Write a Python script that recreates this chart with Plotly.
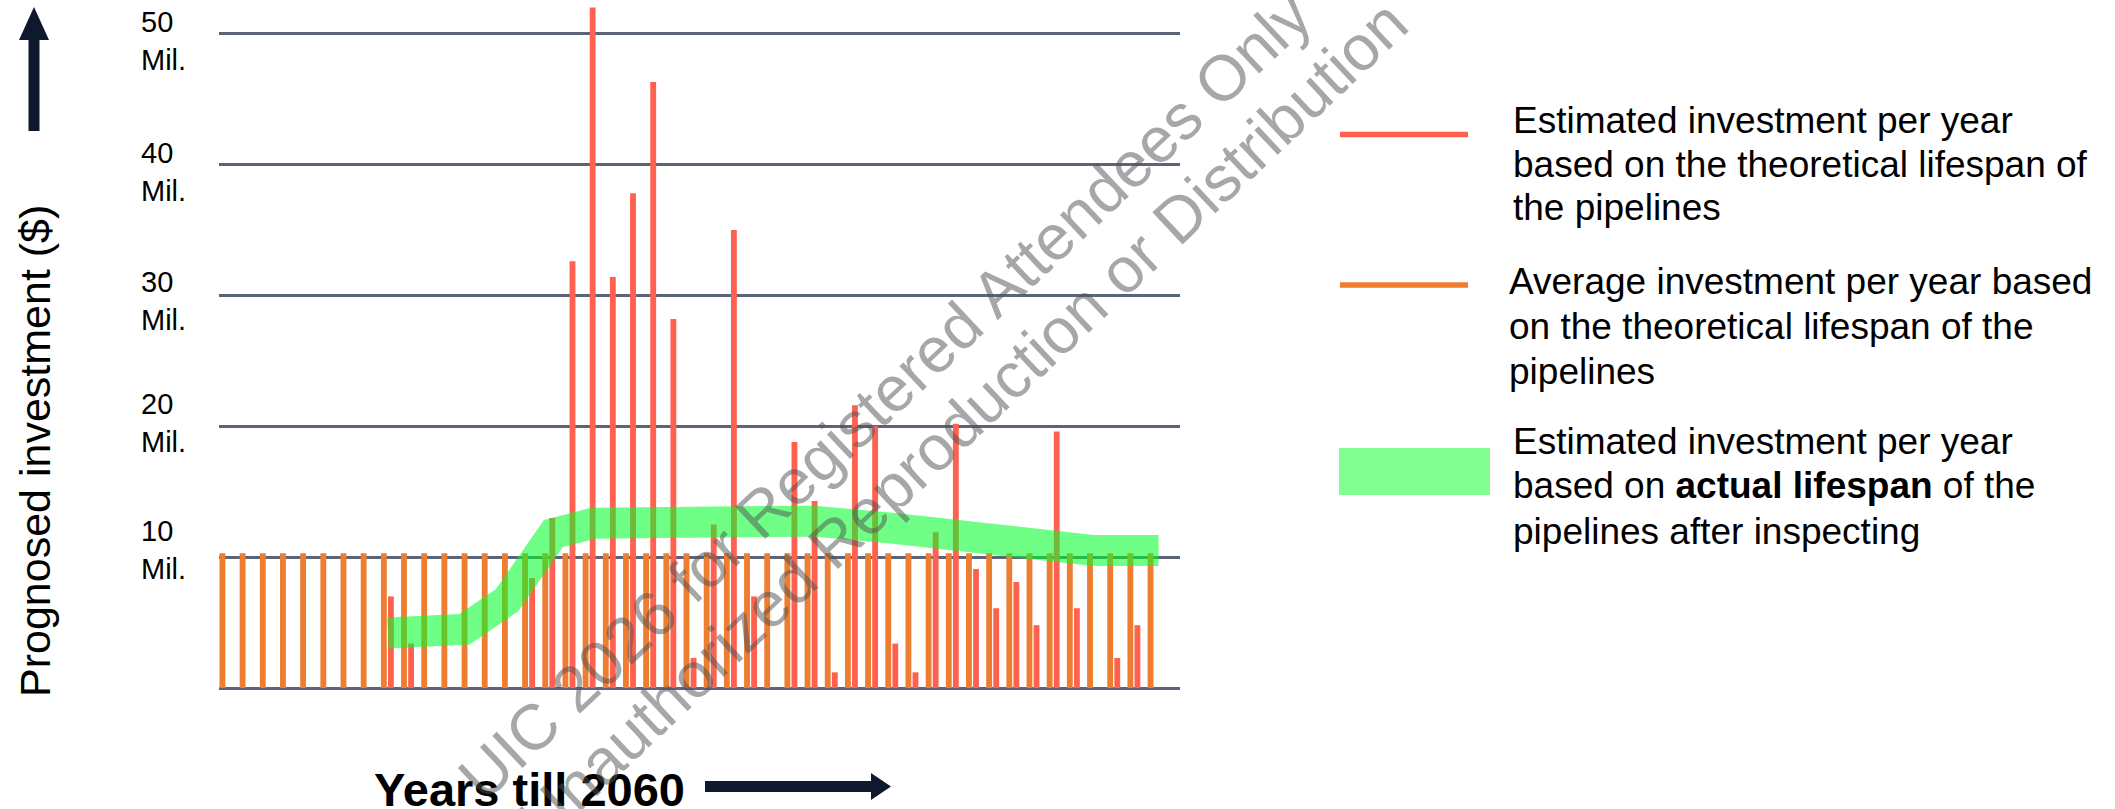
import plotly.graph_objects as go

# ---------------- data ----------------
years = list(range(2014, 2061))  # 47 yearly slots till 2060

# Average investment per year (theoretical lifespan), Mil. $
avg_investment = [10.3, 10.3, 10.3, 10.3, 10.3, 10.3, 10.3, 10.3, 10.3, 10.3,
                  10.3, 10.3, 10.3, 10.3, 10.3, 10.3, 10.3, 10.3, 10.3, 10.3,
                  10.3, 10.3, 10.3, 10.3, 10.3, 10.3, 10.3, 10.3, 10.3, 10.3,
                  10.3, 10.3, 10.3, 10.3, 10.3, 10.3, 10.3, 10.3, 10.3, 10.3,
                  10.3, 10.3, 10.3, 10.3, 10.3, 10.3, 10.3]

# Estimated investment per year (theoretical lifespan), Mil. $
est_investment = [None, None, None, None, None, None, None, None, 7.0, 3.4,
                  None, None, None, None, None, 8.4, 13.0, 32.6, 52.0, 31.4,
                  37.8, 46.3, 28.2, 2.3, 12.5, 35.0, 7.0, None, 18.8, 14.3,
                  1.2, 21.6, 20.0, 3.4, 1.2, 11.9, 20.2, 9.1, 6.1, 8.1,
                  4.8, 19.6, 6.1, None, 2.3, 4.8, None]

# Estimated investment based on actual lifespan (band)
band_years = [2022.2, 2024.9, 2026.0, 2028.1, 2030.4, 2032.4, 2037.2,
              2039.3, 2043.3, 2047.3, 2050.5, 2055.4, 2057.2, 2060.4]
band_values = [4.2, 4.2, 4.5, 6.7, 11.8, 12.6, 12.7,
               13.0, 12.75, 12.2, 11.6, 10.8, 10.5, 10.5]

tick_values = [10, 20, 30, 40, 50]
tick_labels = ["10<br>Mil.", "20<br>Mil.", "30<br>Mil.", "40<br>Mil.", "50<br>Mil."]
grid_values = [0, 10, 20, 30, 40, 50]

legend_entries = [
    ["Estimated investment per year",
     "based on the theoretical lifespan of",
     "the pipelines"],
    ["Average investment per year based",
     "on the theoretical lifespan of the",
     "pipelines"],
    ["Estimated investment per year",
     "based on <b>actual lifespan</b> of the",
     "pipelines after inspecting"],
]

watermark_lines = ["UIC 2026 for Registered Attendees Only",
                   "Unauthorized Reproduction or Distribution"]

# ---------------- style ----------------
FONT = "Liberation Sans, Arial, sans-serif"
ORANGE = "#ED7D31"
RED = "#FF6150"
GREEN_BAND = "rgba(0,255,40,0.56)"
GREEN_SWATCH = "#80FF90"
GRID = "#5B6478"
NAVY = "#0F192D"

FIG_W, FIG_H = 2115, 809
L, T, W, H = 219, 0, 961, 690


def pxp(X):
    return (X - L) / W


def pyp(Y):
    return (T + H - Y) / H


fig = go.Figure()

fig.add_trace(go.Bar(
    x=years, y=avg_investment, width=0.29, offset=-0.145,
    marker=dict(color=ORANGE, line=dict(width=0)),
    hoverinfo="skip", showlegend=False))

fig.add_trace(go.Bar(
    x=years, y=est_investment, width=0.29, offset=0.205,
    marker=dict(color=RED, line=dict(width=0)),
    hoverinfo="skip", showlegend=False))

fig.add_trace(go.Scatter(
    x=band_years, y=band_values, mode="lines",
    line=dict(color=GREEN_BAND, width=31),
    hoverinfo="skip", showlegend=False))

annotations = []

# y tick labels (text boxes sit slightly off the grid lines, as in the original)
tick_label_shift = [7.6, 3.4, -6, -7.4, -7]
for v, lab, ys in zip(tick_values, tick_labels, tick_label_shift):
    annotations.append(dict(
        xref="paper", yref="y", x=pxp(139), y=v, xanchor="left", yanchor="middle",
        align="left", text=lab, showarrow=False, yshift=ys,
        font=dict(family=FONT, size=29, color="#000000")))

# axis titles
annotations.append(dict(
    xref="paper", yref="paper", x=pxp(35), y=pyp(451), xanchor="center", yanchor="middle",
    text="Prognosed investment ($)", textangle=-90, showarrow=False,
    font=dict(family=FONT, size=43, color="#000000")))
annotations.append(dict(
    xref="paper", yref="paper", x=pxp(529), y=pyp(789), xanchor="center", yanchor="middle",
    text="<b>Years till 2060</b>", showarrow=False,
    font=dict(family=FONT, size=47, color="#000000")))

# legend texts
legend_x = [1511, 1507, 1511]
legend_y = [[120, 164, 208], [281, 326, 371], [441, 486, 531]]
for lines, lx, ly in zip(legend_entries, legend_x, legend_y):
    for txt, yy in zip(lines, ly):
        annotations.append(dict(
            xref="paper", yref="paper", x=pxp(lx), y=pyp(yy), xanchor="left",
            yanchor="middle", text=txt, showarrow=False,
            font=dict(family=FONT, size=37, color="#000000")))

# watermark
wm_centers = [(885, 396), (963, 421)]
for txt, (cx, cy) in zip(watermark_lines, wm_centers):
    annotations.append(dict(
        xref="paper", yref="paper", x=pxp(cx), y=pyp(cy), xanchor="center",
        yanchor="middle", text=txt, textangle=-43.3, showarrow=False,
        font=dict(family=FONT, size=64, color="rgba(80,80,80,0.5)")))

shapes = []
# up arrow (y axis)
shapes.append(dict(type="rect", xref="paper", yref="paper",
                   x0=pxp(28.5), x1=pxp(39.5), y0=pyp(131), y1=pyp(38),
                   fillcolor=NAVY, line=dict(width=0)))
shapes.append(dict(type="path", xref="paper", yref="paper",
                   path=f"M {pxp(19)},{pyp(40)} L {pxp(49)},{pyp(40)} L {pxp(34)},{pyp(7)} Z",
                   fillcolor=NAVY, line=dict(width=0)))
# right arrow (x axis)
shapes.append(dict(type="rect", xref="paper", yref="paper",
                   x0=pxp(705), x1=pxp(873), y0=pyp(792), y1=pyp(781),
                   fillcolor=NAVY, line=dict(width=0)))
shapes.append(dict(type="path", xref="paper", yref="paper",
                   path=f"M {pxp(871)},{pyp(773)} L {pxp(871)},{pyp(800)} L {pxp(891)},{pyp(786.5)} Z",
                   fillcolor=NAVY, line=dict(width=0)))
# legend swatches
shapes.append(dict(type="line", xref="paper", yref="paper",
                   x0=pxp(1340), x1=pxp(1468), y0=pyp(134.5), y1=pyp(134.5),
                   line=dict(color=RED, width=5.5)))
shapes.append(dict(type="line", xref="paper", yref="paper",
                   x0=pxp(1340), x1=pxp(1468), y0=pyp(285), y1=pyp(285),
                   line=dict(color=ORANGE, width=5.5)))
shapes.append(dict(type="rect", xref="paper", yref="paper",
                   x0=pxp(1339), x1=pxp(1490), y0=pyp(495), y1=pyp(448),
                   fillcolor=GREEN_SWATCH, line=dict(width=0)))

fig.update_layout(
    template="none",
    width=FIG_W, height=FIG_H,
    margin=dict(l=L, r=FIG_W - L - W, t=T, b=FIG_H - T - H, pad=0),
    paper_bgcolor="white", plot_bgcolor="white",
    barmode="overlay",
    showlegend=False,
    xaxis=dict(range=[2013.83, 2061.46], showgrid=False, zeroline=False,
               showticklabels=False, showline=False, ticks=""),
    yaxis=dict(range=[-0.15, 52.57], tickvals=grid_values, showticklabels=False,
               showgrid=True, gridcolor=GRID, gridwidth=2.5, zeroline=False,
               showline=False, ticks=""),
    annotations=annotations,
    shapes=shapes,
)

fig.write_html("out.html", config={"displayModeBar": False},
               post_script="document.body.style.margin='0px';document.body.style.overflow='hidden';")
